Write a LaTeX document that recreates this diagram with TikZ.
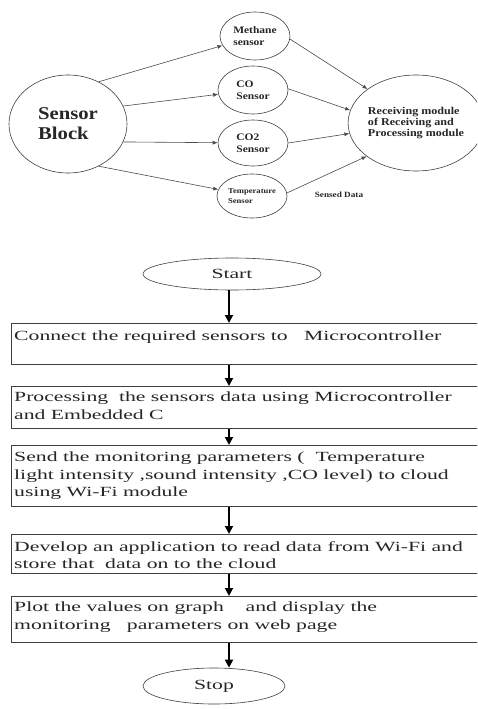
\documentclass[tikz,border=0pt]{standalone}
\usepackage{fontspec}
\setmainfont{Liberation Serif}
\newfontfamily\topfont{Liberation Serif}[FakeStretch=1.15]
\newfontfamily\flowfont{Liberation Serif}[FakeStretch=1.55]
\usetikzlibrary{shapes.geometric,arrows.meta}
\begin{document}
\begin{tikzpicture}[x=1pt,y=-1pt,
 ell/.style={draw=black!75, line width=0.6pt, ellipse, inner sep=0pt},
 conn/.style={draw=black!70, line width=0.6pt, -{Latex[length=5pt,width=4pt]}},
 box/.style={draw=black!75, line width=1pt, rectangle, inner sep=0pt, anchor=north west, minimum width=468pt},
 ftext/.style={anchor=north west, align=left, inner sep=0pt, text=black!85, font=\flowfont\fontsize{14}{17.5}\selectfont},
 farr/.style={line width=1.8pt, -{Triangle[length=8pt,width=8pt]}},
 stext/.style={font=\topfont\bfseries\fontsize{10}{12}\selectfont, align=left, text=black!85}]
\useasboundingbox (0,0) rectangle (477,709);
\clip (0,0) rectangle (477,709);
\fill[white] (0,0) rectangle (477,709);
% ---------- top graph ----------
\node[ell, minimum width=118pt, minimum height=98pt, align=left, text=black!85,
      font=\topfont\bfseries\fontsize{18}{20}\selectfont] (sb) at (68,124) {Sensor\\Block};
\node[ell, minimum width=70pt, minimum height=48pt, stext] (m) at (255,36) {Methane\\sensor};
\node[ell, minimum width=70pt, minimum height=48pt, stext] (co) at (253,90) {CO\\Sensor};
\node[ell, minimum width=70pt, minimum height=46pt, stext] (co2) at (253,143) {CO2\\Sensor};
\node[ell, minimum width=70pt, minimum height=44pt, stext, font=\topfont\bfseries\fontsize{7.5}{10}\selectfont] (tmp) at (252,196) {Temperature\\Sensor};
\node[ell, minimum width=116pt, minimum height=96pt, stext, font=\topfont\bfseries\fontsize{10.5}{11}\selectfont] (rc) at (416,123) {Receiving module\\of Receiving and\\Processing module};
\node[stext, font=\topfont\bfseries\fontsize{8}{10}\selectfont] (sd) at (339,195) {Sensed Data};
\draw[conn] (sb.54) -- (m);
\draw[conn] (sb.18) -- (co);
\draw[conn] (sb.-18) -- (co2);
\draw[conn] (sb.-54) -- (tmp);
\draw[conn] (m.-5) -- (rc.145);
\draw[conn] (co.2) -- (rc.169);
\draw[conn] (co2.0) -- (rc.189);
\draw[conn] (tmp.5) -- (rc.214);
% ---------- flowchart ----------
\coordinate (ax) at (229,0);
\node[ell, minimum width=178pt, minimum height=32pt, text=black!85, font=\flowfont\fontsize{14}{17}\selectfont] (start) at (232,274) {Start};
\node[box, minimum height=41pt] (b1) at (11,323) {};
\node[box, minimum height=42pt] (b2) at (11,386) {};
\node[box, minimum height=61pt] (b3) at (11,445) {};
\node[box, minimum height=39pt] (b4) at (11,534) {};
\node[box, minimum height=46pt] (b5) at (11,596) {};
\node[ftext] (t1) at (14,331) {Connect the required sensors to\ \ \ Microcontroller};
\node[ftext] (t2) at (14,392) {Processing\ \ the sensors data using Microcontroller\\and Embedded C};
\node[ftext] (t3) at (14,452) {Send the monitoring parameters (\ \ Temperature\\light intensity ,sound intensity ,CO level) to cloud\\using Wi-Fi module};
\node[ftext] (t4) at (14,541) {Develop an application to read data from Wi-Fi and\\store that\ \ data on to the cloud};
\node[ftext] (t5) at (14,602) {Plot the values on graph\ \ \ \ and display the\\monitoring\ \ \ parameters on web page};
\node[ell, minimum width=142pt, minimum height=36pt, text=black!85, font=\flowfont\fontsize{14}{17}\selectfont] (stop) at (214,686) {Stop};
\draw[farr] (ax |- start.south) -- (ax |- b1.north);
\draw[farr] (ax |- b1.south) -- (ax |- b2.north);
\draw[farr] (ax |- b2.south) -- (ax |- b3.north);
\draw[farr] (ax |- b3.south) -- (ax |- b4.north);
\draw[farr] (ax |- b4.south) -- (ax |- b5.north);
\draw[farr] (ax |- b5.south) -- (ax |- stop.north);
\end{tikzpicture}
\end{document}
